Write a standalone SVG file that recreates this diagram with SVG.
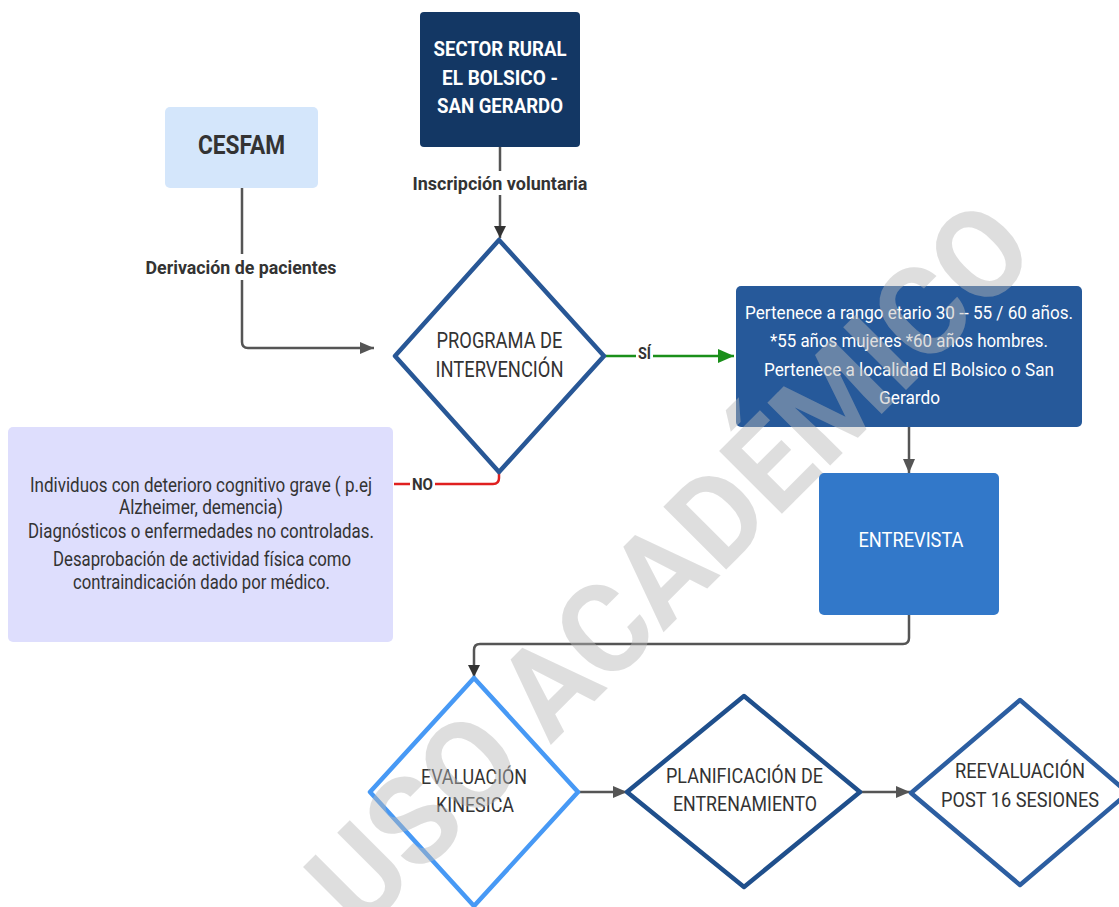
<svg xmlns="http://www.w3.org/2000/svg" width="1119" height="907" viewBox="0 0 1119 907">
<style>
text{font-family:Roboto,"Liberation Sans",sans-serif;text-anchor:middle}
.dk{fill:#333333}
.wt{fill:#ffffff}
.b{font-weight:bold}
.dia{fill:#ffffff;stroke-width:4.5;stroke-linejoin:round}
.con{fill:none;stroke:#555555;stroke-width:2.5}
.lbl{fill:#ffffff}
</style>
<defs>
<marker id="ag" viewBox="0 0 14 12" refX="14" refY="6" markerWidth="14" markerHeight="12" markerUnits="userSpaceOnUse" orient="auto"><path d="M0,0 L14,6 L0,12 Z" fill="#555555"/></marker>
<marker id="ad" viewBox="0 0 12 14" refX="12" refY="7" markerWidth="12" markerHeight="14" markerUnits="userSpaceOnUse" orient="auto"><path d="M0,1 L12,7 L0,13 Z" fill="#333333"/></marker>
<marker id="agr" viewBox="0 0 16 14" refX="16" refY="7" markerWidth="16" markerHeight="14" markerUnits="userSpaceOnUse" orient="auto"><path d="M0,0 L16,7 L0,14 Z" fill="#1a8f1a"/></marker>
</defs>
<rect width="1119" height="907" fill="#ffffff"/>

<g id="connectors">
<path class="con" d="M500,147 V238" stroke="#333333" marker-end="url(#ad)"/>
<rect class="lbl" x="410" y="171" width="180" height="24"/>
<text class="dk b" x="500" y="190" font-size="19" textLength="175" lengthAdjust="spacingAndGlyphs">Inscripción voluntaria</text>
<path class="con" d="M242,188 V342 Q242,348 248,348 H374" marker-end="url(#ag)"/>
<rect class="lbl" x="144" y="254" width="196" height="26"/>
<text class="dk b" x="241" y="274" font-size="19" textLength="191" lengthAdjust="spacingAndGlyphs">Derivación de pacientes</text>
<path d="M604,356 H734" fill="none" stroke="#1a8f1a" stroke-width="2.5" marker-end="url(#agr)"/>
<rect class="lbl" x="636" y="344" width="17" height="20"/>
<text class="dk b" x="644.5" y="359" font-size="16" textLength="13" lengthAdjust="spacingAndGlyphs">SÍ</text>
<path d="M499,472 V478 Q499,484 493,484 H394" fill="none" stroke="#e02020" stroke-width="2.5"/>
<rect class="lbl" x="410" y="474" width="25" height="20"/>
<text class="dk b" x="422.5" y="490" font-size="17" textLength="21" lengthAdjust="spacingAndGlyphs">NO</text>
<path class="con" d="M909,427 V473" marker-end="url(#ag)"/>
<path class="con" stroke-width="1.6" d="M909,615 V638 Q909,644 903,644 H480 Q474,644 474,650 V677" marker-end="url(#ad)"/>
<path class="con" d="M578,792 H627" marker-end="url(#ag)"/>
<path class="con" d="M860,792 H910" marker-end="url(#ag)"/>
</g>

<g id="sector">
<rect x="420" y="12" width="160" height="135" rx="4" fill="#133764"/>
<text class="wt b" x="500" y="56" font-size="21" textLength="133" lengthAdjust="spacingAndGlyphs">SECTOR RURAL</text>
<text class="wt b" x="500" y="85" font-size="21" textLength="116" lengthAdjust="spacingAndGlyphs">EL BOLSICO -</text>
<text class="wt b" x="500" y="113" font-size="21" textLength="126" lengthAdjust="spacingAndGlyphs">SAN GERARDO</text>
</g>

<g id="cesfam">
<rect x="165" y="107" width="153" height="81" rx="5" fill="#d4e6fb"/>
<text class="dk b" x="241.5" y="154" font-size="26" textLength="87" lengthAdjust="spacingAndGlyphs">CESFAM</text>
</g>

<g id="programa">
<path class="dia" stroke="#285796" d="M499,240 L604,356 L499,472 L395,356 Z"/>
<text class="dk" x="499.5" y="348" font-size="22" textLength="126" lengthAdjust="spacingAndGlyphs">PROGRAMA DE</text>
<text class="dk" x="499.5" y="377" font-size="22" textLength="128" lengthAdjust="spacingAndGlyphs">INTERVENCIÓN</text>
</g>

<g id="criterios">
<rect x="736" y="286" width="346" height="141" rx="5" fill="#26599a"/>
<text class="wt" x="909" y="319" font-size="19" textLength="328" lengthAdjust="spacingAndGlyphs">Pertenece a rango etario 30 -- 55 / 60 años.</text>
<text class="wt" x="909" y="347" font-size="19" textLength="278" lengthAdjust="spacingAndGlyphs">*55 años mujeres *60 años hombres.</text>
<text class="wt" x="909" y="376" font-size="19" textLength="290" lengthAdjust="spacingAndGlyphs">Pertenece a localidad El Bolsico o San</text>
<text class="wt" x="909.5" y="404" font-size="19" textLength="61" lengthAdjust="spacingAndGlyphs">Gerardo</text>
</g>

<g id="exclusion">
<rect x="8" y="427" width="385" height="215" rx="5" fill="#dedefd"/>
<text class="dk" x="201" y="492" font-size="20" textLength="342" lengthAdjust="spacingAndGlyphs">Individuos con deterioro cognitivo grave ( p.ej</text>
<text class="dk" x="201" y="514" font-size="20" textLength="164" lengthAdjust="spacingAndGlyphs">Alzheimer, demencia)</text>
<text class="dk" x="201" y="538" font-size="20" textLength="346" lengthAdjust="spacingAndGlyphs">Diagnósticos o enfermedades no controladas.</text>
<text class="dk" x="202" y="566" font-size="20" textLength="298" lengthAdjust="spacingAndGlyphs">Desaprobación de actividad física como</text>
<text class="dk" x="201.5" y="589" font-size="20" textLength="257" lengthAdjust="spacingAndGlyphs">contraindicación dado por médico.</text>
</g>

<g id="entrevista">
<rect x="819" y="473" width="180" height="142" rx="5" fill="#3278c9"/>
<text class="wt" x="911" y="547" font-size="21" textLength="105" lengthAdjust="spacingAndGlyphs">ENTREVISTA</text>
</g>

<g id="evaluacion">
<path class="dia" stroke="#4799f5" d="M474,678 L578,792 L474,906 L370,792 Z"/>
<text class="dk" x="474" y="784" font-size="21" textLength="106" lengthAdjust="spacingAndGlyphs">EVALUACIÓN</text>
<text class="dk" x="475" y="812" font-size="21" textLength="78" lengthAdjust="spacingAndGlyphs">KINESICA</text>
</g>

<g id="planificacion">
<path class="dia" stroke="#1f4f8c" d="M744,696 L860,792 L744,887 L627,792 Z"/>
<text class="dk" x="744.5" y="783" font-size="21" textLength="157" lengthAdjust="spacingAndGlyphs">PLANIFICACIÓN DE</text>
<text class="dk" x="745" y="811" font-size="21" textLength="144" lengthAdjust="spacingAndGlyphs">ENTRENAMIENTO</text>
</g>

<g id="reevaluacion">
<path class="dia" stroke="#2c5ea1" d="M1020,700 L1128,793 L1020,885 L911,793 Z"/>
<text class="dk" x="1020" y="778" font-size="20" textLength="130" lengthAdjust="spacingAndGlyphs">REEVALUACIÓN</text>
<text class="dk" x="1020" y="807" font-size="20" textLength="158" lengthAdjust="spacingAndGlyphs">POST 16 SESIONES</text>
</g>

<g id="watermark" opacity="0.45">
<text x="670" y="608" font-size="125" font-weight="bold" fill="#b8b8b8" textLength="960" lengthAdjust="spacingAndGlyphs" transform="rotate(-45 670 565)">USO ACADÉMICO</text>
</g>
</svg>
